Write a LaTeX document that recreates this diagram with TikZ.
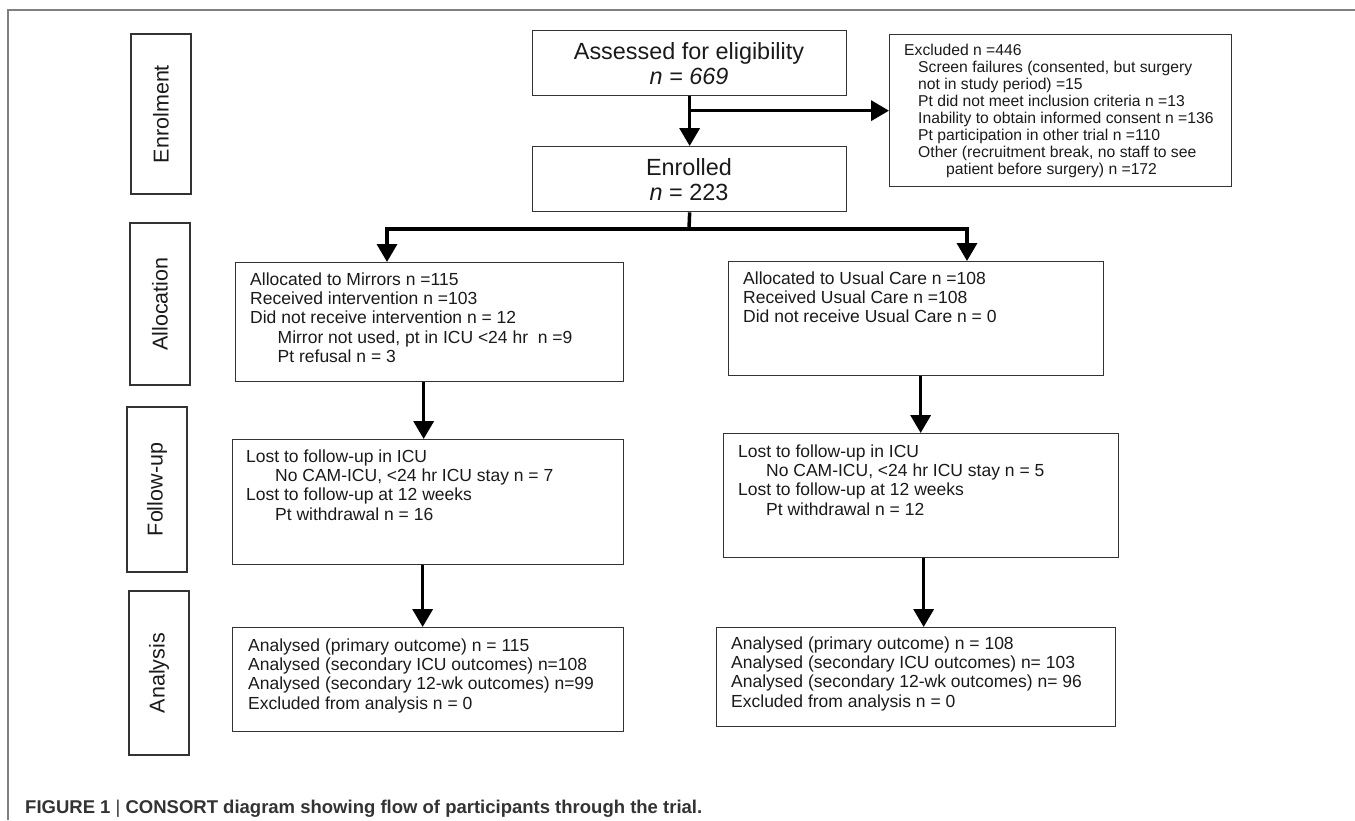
\documentclass[tikz,border=0pt]{standalone}
\usepackage{fontspec}
\setmainfont{Liberation Sans}
\usetikzlibrary{arrows.meta}
\definecolor{edge}{HTML}{333333}
\definecolor{frame}{HTML}{808080}
\definecolor{ink}{HTML}{1A1A1A}
\begin{document}
\begin{tikzpicture}[x=1pt,y=-1pt,
  box/.style={draw=edge, line width=1.3pt, anchor=north west, inner sep=0pt},
  labbox/.style={draw=edge, line width=1.3pt, inner sep=0pt, rotate=90, minimum height=60pt, text=ink, font=\fontsize{21.5}{24}\selectfont},
  txt/.style={anchor=north west, inner sep=0pt, align=left, text=ink, font=\fontsize{17.5}{19.25}\selectfont},
  big/.style={inner sep=0pt, align=center, text=ink, font=\fontsize{23.4}{25}\selectfont},
  arr/.style={line width=3.5pt, -{Triangle[length=18pt,width=20pt]}},
  ln/.style={line width=3.5pt}]
\useasboundingbox (0,0) rectangle (1355,820);
% frame
\draw[frame, line width=1.5pt] (8,820) -- (8,10) -- (1355,10);
% stage labels
\node[labbox, minimum width=160pt] (lEnr) at (161,114) {Enrolment};
\node[labbox, minimum width=162pt] (lAll) at (160,304) {Allocation};
\node[labbox, minimum width=165pt] (lFol) at (157,489.5) {Follow-up};
\node[labbox, minimum width=164pt] (lAna) at (159,673) {Analysis};
% boxes
\node[box, minimum width=314pt, minimum height=65pt] (assess) at (532,30) {};
\node[box, minimum width=314pt, minimum height=65pt] (enrol) at (532,146) {};
\node[box, minimum width=342pt, minimum height=152pt] (excl) at (889,34) {};
\node[box, minimum width=388pt, minimum height=119pt] (allocM) at (235,262) {};
\node[box, minimum width=391pt, minimum height=125pt] (followM) at (232,439) {};
\node[box, minimum width=391pt, minimum height=104pt] (anaM) at (232,627) {};
\node[box, minimum width=375pt, minimum height=114pt] (allocU) at (728,261) {};
\node[box, minimum width=395pt, minimum height=124pt] (followU) at (723,433) {};
\node[box, minimum width=399pt, minimum height=99pt] (anaU) at (716,627) {};
% texts
\node[big] (tAssess) at (689,64) {Assessed for eligibility\\ \textit{n = 669}};
\node[big] (tEnrol) at (689,180) {Enrolled\\ \textit{n} = 223};
\node[txt, font=\fontsize{15.7}{17}\selectfont] (tExcl) at (904,43.5) {Excluded n =446\\
\hspace*{14pt}Screen failures (consented, but surgery\\
\hspace*{14pt}not in study period) =15\\
\hspace*{14pt}Pt did not meet inclusion criteria n =13\\
\hspace*{14pt}Inability to obtain informed consent n =136\\
\hspace*{14pt}Pt participation in other trial n =110\\
\hspace*{14pt}Other (recruitment break, no staff to see\\
\hspace*{42pt}patient before surgery) n =172};
\node[txt] (tAllocM) at (250,272.6) {Allocated to Mirrors n =115\\
Received intervention n =103\\
Did not receive intervention n = 12\\
\hspace*{27.5pt}Mirror not used, pt in ICU <24 hr\ \ n =9\\
\hspace*{27.5pt}Pt refusal n = 3};
\node[txt] (tFollowM) at (246,449.6) {Lost to follow-up in ICU\\
\hspace*{29pt}No CAM-ICU, <24 hr ICU stay n = 7\\
Lost to follow-up at 12 weeks\\
\hspace*{29pt}Pt withdrawal n = 16};
\node[txt] (tAnaM) at (248,638.6) {Analysed (primary outcome) n = 115\\
Analysed (secondary ICU outcomes) n=108\\
Analysed (secondary 12-wk outcomes) n=99\\
Excluded from analysis n = 0};
\node[txt] (tAllocU) at (743,271.6) {Allocated to Usual Care n =108\\
Received Usual Care n =108\\
Did not receive Usual Care n = 0};
\node[txt] (tFollowU) at (738,444.6) {Lost to follow-up in ICU\\
\hspace*{28pt}No CAM-ICU, <24 hr ICU stay n = 5\\
Lost to follow-up at 12 weeks\\
\hspace*{28pt}Pt withdrawal n = 12};
\node[txt] (tAnaU) at (731,636.6) {Analysed (primary outcome) n = 108\\
Analysed (secondary ICU outcomes) n= 103\\
Analysed (secondary 12-wk outcomes) n= 96\\
Excluded from analysis n = 0};
% caption
\node[anchor=base west, inner sep=0pt, text=edge, font=\fontsize{18.5}{20}\selectfont\bfseries] (cap) at (25,813.5) {FIGURE 1 \textmd{|} CONSORT diagram showing flow of participants through the trial.};
% connectors
\coordinate (bj) at (689,229);
\coordinate (bl) at (387,229);
\coordinate (br) at (967,229);
\draw[arr] (assess.south) -- (enrol.north);
\draw[arr] (assess.south |- excl.west) -- (excl.west);
\draw[ln] (enrol.south) -- (bj);
\draw[arr] (bj) -| (bl |- allocM.north);
\draw[arr] (bj) -| (br |- allocU.north);
\draw[arr] ([xshift=-6pt]allocM.south) -- ([xshift=-6pt]allocM.south |- followM.north);
\draw[arr] ([xshift=-5.5pt]followM.south) -- ([xshift=-5.5pt]followM.south |- anaM.north);
\draw[arr] ([xshift=4.5pt]allocU.south) -- ([xshift=4.5pt]allocU.south |- followU.north);
\draw[arr] ([xshift=2.5pt]followU.south) -- ([xshift=2.5pt]followU.south |- anaU.north);
\end{tikzpicture}
\end{document}
